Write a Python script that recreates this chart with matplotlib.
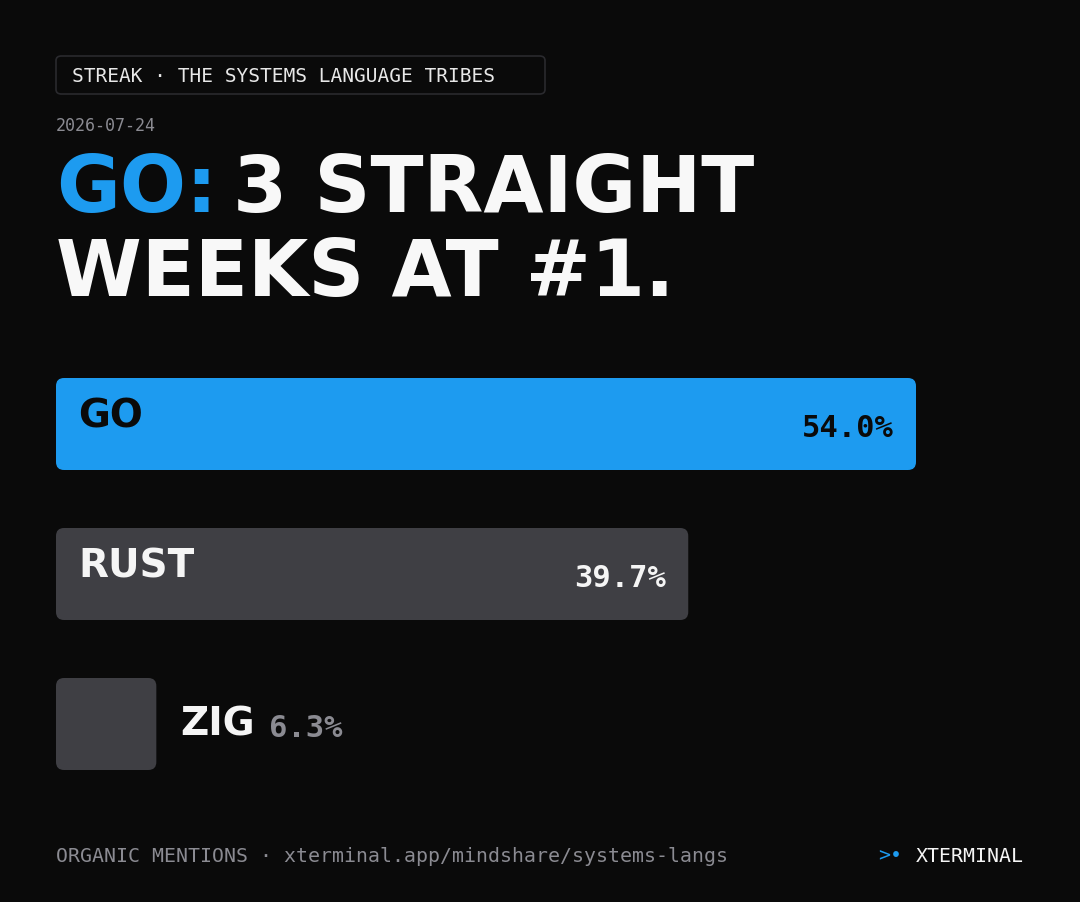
import matplotlib
matplotlib.use("Agg")
import matplotlib.pyplot as plt
from matplotlib.patches import FancyBboxPatch

# data
languages = ["GO", "RUST", "ZIG"]
shares = [54.0, 39.7, 6.3]
bar_colors = ["#1d9bf0", "#3f3f44", "#3f3f44"]
name_colors = ["#0a0a0a", "#f5f5f5", "#f5f5f5"]
pct_colors = ["#0a0a0a", "#f5f5f5", "#8b8b92"]

BG = "#0a0a0a"
W, H = 1080, 902
COND = ["DejaVu Sans"]
MONO = ["DejaVu Sans Mono"]

fig = plt.figure(figsize=(W / 100, H / 100), dpi=100, facecolor=BG)


def px(x, y):
    return x / W, 1 - y / H


# header badge
badge = FancyBboxPatch(px(56, 94), 489 / W, 38 / H, boxstyle="round,pad=0,rounding_size=0.005",
                       transform=fig.transFigure, facecolor=BG, edgecolor="#2a2a2e", lw=1.2)
fig.patches.append(badge)
fig.text(*px(72, 76), "STREAK · THE SYSTEMS LANGUAGE TRIBES", family=MONO, fontsize=14,
         color="#e8e8e8", va="center", ha="left")
fig.text(*px(56, 126), "2026-07-24", family=MONO, fontsize=12, color="#8b8b92", va="center")

# title
TS = 56
t1 = fig.text(*px(56, 212), "GO:", family=COND, weight="bold", fontsize=TS, color="#1d9bf0",
              va="baseline")
fig.canvas.draw()
go_w = t1.get_window_extent().width
fig.text((56 + go_w + 16) / W, 1 - 212 / H, "3 STRAIGHT", family=COND, weight="bold",
         fontsize=TS, color="#f8f8f8", va="baseline")
fig.text(*px(56, 296), "WEEKS AT #1.", family=COND, weight="bold", fontsize=TS, color="#f8f8f8",
         va="baseline")

# bars
ax = fig.add_axes([56 / W, 1 - 770 / H, 860 / W, 392 / H])
ax.set_facecolor(BG)
ax.set_xlim(0, 54.0)
ax.set_ylim(2 + 46 / 150, -46 / 150)
ax.axis("off")
bars = ax.barh(range(len(languages)), shares, height=92 / 150, color=bar_colors)
aspect = ((2 + 92 / 150) / 392) / (54.0 / 860)
for rect, c in zip(bars, bar_colors):
    rect.set_visible(False)
    ax.add_patch(FancyBboxPatch((rect.get_x(), rect.get_y()), rect.get_width(), rect.get_height(),
                                boxstyle="round,pad=0,rounding_size=%f" % (8 * 54.0 / 860),
                                mutation_aspect=aspect, facecolor=c, edgecolor="none"))

unit = 54.0 / 860
for i, (name, v) in enumerate(zip(languages, shares)):
    if v > 20:
        ax.text(22 * unit, i - 0.05, name, family=COND, weight="bold", fontsize=28,
                color=name_colors[i], va="center", ha="left")
        ax.text(v - 22 * unit, i + 0.03, f"{v:.1f}%", family=MONO, weight="bold", fontsize=22,
                color=pct_colors[i], va="center", ha="right")
    else:
        ax.text(v + 24 * unit, i - 0.0, name, family=COND, weight="bold", fontsize=28,
                color=name_colors[i], va="center", ha="left")
        ax.text(v + 113 * unit, i + 0.03, f"{v:.1f}%", family=MONO, weight="bold", fontsize=22,
                color=pct_colors[i], va="center", ha="left")

# footer
fig.text(*px(56, 856), "ORGANIC MENTIONS · xterminal.app/mindshare/systems-langs", family=MONO,
         fontsize=14.3, color="#8b8b92", va="center")
fig.text(*px(1024, 856), "XTERMINAL", family=MONO, fontsize=14.3, color="#f5f5f5", va="center",
         ha="right")
fig.text(*px(878, 856), ">•", family=MONO, fontsize=14.3, color="#1d9bf0", va="center")

fig.savefig("out.png", dpi=100, facecolor=BG)
